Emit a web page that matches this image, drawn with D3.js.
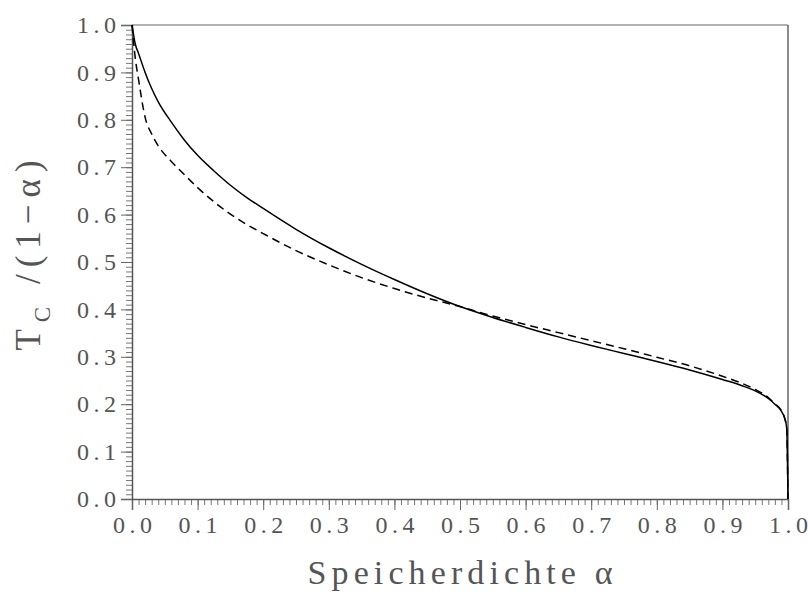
<!DOCTYPE html>
<html>
<head>
<meta charset="utf-8">
<script src="https://cdn.jsdelivr.net/npm/d3@7"></script>
<style>
  body { margin: 0; background: #fff; }
  text { font-family: "Liberation Serif", "DejaVu Serif", serif; fill: #555; }
</style>
</head>
<body>
<svg width="808" height="592"></svg>
<script>
// Speicherdichte alpha
var alpha = [0, 0.005, 0.01, 0.02, 0.03, 0.04, 0.06, 0.08, 0.1, 0.125, 0.15, 0.175, 0.2, 0.25, 0.3,
             0.35, 0.4, 0.45, 0.5, 0.55, 0.6, 0.65, 0.7, 0.75, 0.8, 0.85, 0.9, 0.93, 0.95,
             0.97, 0.98, 0.99, 0.995, 0.998, 1.0];
// solid curve
var tcSolid = [1.0, 0.96, 0.94, 0.9, 0.866, 0.838, 0.795, 0.757, 0.725, 0.692, 0.662, 0.636, 0.613, 0.569, 0.53,
               0.495, 0.463, 0.433, 0.406, 0.383, 0.362, 0.342, 0.324, 0.307, 0.29, 0.272, 0.252, 0.239, 0.228,
               0.212, 0.2, 0.185, 0.17, 0.15, 0.0];
// dashed curve
var tcDashed = [1.0, 0.93, 0.885, 0.805, 0.77, 0.745, 0.712, 0.684, 0.657, 0.627, 0.601, 0.579, 0.56, 0.524, 0.494,
                0.467, 0.444, 0.424, 0.406, 0.386, 0.368, 0.351, 0.334, 0.317, 0.299, 0.281, 0.259, 0.244, 0.231,
                0.214, 0.201, 0.186, 0.17, 0.15, 0.0];
var xTicks = [0, 0.1, 0.2, 0.3, 0.4, 0.5, 0.6, 0.7, 0.8, 0.9, 1.0];
var yTicks = [0, 0.1, 0.2, 0.3, 0.4, 0.5, 0.6, 0.7, 0.8, 0.9, 1.0];

var svg = d3.select("svg"),
    pLeft = 132, pRight = 788, pTop = 25, pBottom = 499;

var x = d3.scaleLinear().domain([0, 1]).range([pLeft, pRight]);
var y = d3.scaleLinear().domain([0, 1]).range([pBottom, pTop]);

var minor = d3.range(0, 101).map(function(d) { return d / 100; });

// frame: top and right
svg.append("line").attr("x1", pLeft).attr("x2", pRight).attr("y1", pTop).attr("y2", pTop)
    .attr("stroke", "#999").attr("stroke-width", 1.5);
svg.append("line").attr("x1", pRight).attr("x2", pRight).attr("y1", pTop).attr("y2", pBottom)
    .attr("stroke", "#666").attr("stroke-width", 1.5);

// spread lettering like the plotter font
function widen(sel, k) {
  sel.each(function() {
    var w = this.getComputedTextLength();
    d3.select(this).attr("textLength", w * k).attr("lengthAdjust", "spacing");
  });
}

function styleLabels(g) {
  g.select(".domain").attr("stroke", "#555").attr("stroke-width", 1.5);
  g.selectAll("line").attr("stroke", "#666");
  g.selectAll("text").attr("font-size", 24).attr("fill", "#555")
    .style("font-family", "Liberation Serif")
    .call(widen, 1.3);
}

// x axis
var gx = svg.append("g").attr("transform", "translate(0," + pBottom + ")")
    .call(d3.axisBottom(x).tickValues(minor).tickSize(6).tickFormat(""));
gx.select(".domain").remove();
gx.selectAll("line").attr("stroke", "#777");
svg.append("g").attr("transform", "translate(0," + pBottom + ")")
    .call(d3.axisBottom(x).tickValues(xTicks).tickSize(11).tickPadding(6).tickFormat(d3.format(".1f")))
    .call(styleLabels);

// y axis
var gy = svg.append("g").attr("transform", "translate(" + pLeft + ",0)")
    .call(d3.axisLeft(y).tickValues(minor).tickSize(6).tickFormat(""));
gy.select(".domain").remove();
gy.selectAll("line").attr("stroke", "#777");
svg.append("g").attr("transform", "translate(" + pLeft + ",0)")
    .call(d3.axisLeft(y).tickValues(yTicks).tickSize(11).tickPadding(5).tickFormat(d3.format(".1f")))
    .call(styleLabels);

// curves
var line = d3.line()
    .x(function(d) { return x(d[0]); })
    .y(function(d) { return y(d[1]); })
    .curve(d3.curveMonotoneX);

svg.append("path")
    .datum(d3.zip(alpha, tcDashed))
    .attr("fill", "none").attr("stroke", "#000").attr("stroke-width", 1.5)
    .attr("stroke-dasharray", "8,5")
    .attr("d", line);

svg.append("path")
    .datum(d3.zip(alpha, tcSolid))
    .attr("fill", "none").attr("stroke", "#000").attr("stroke-width", 1.5)
    .attr("d", line);

// axis titles
svg.append("text")
    .attr("x", 460).attr("y", 584)
    .attr("text-anchor", "middle").attr("font-size", 34)
    .attr("textLength", 305).attr("lengthAdjust", "spacing")
    .text("Speicherdichte α");

var yl = svg.append("text")
    .attr("transform", "translate(40,252) rotate(-90)")
    .attr("text-anchor", "middle").attr("font-size", 35)
    .style("letter-spacing", "7px");
yl.append("tspan").text("T");
yl.append("tspan").attr("font-size", 23).attr("dy", 10).text("C");
yl.append("tspan").attr("dy", -10).text(" /(1−α)");
</script>
</body>
</html>
